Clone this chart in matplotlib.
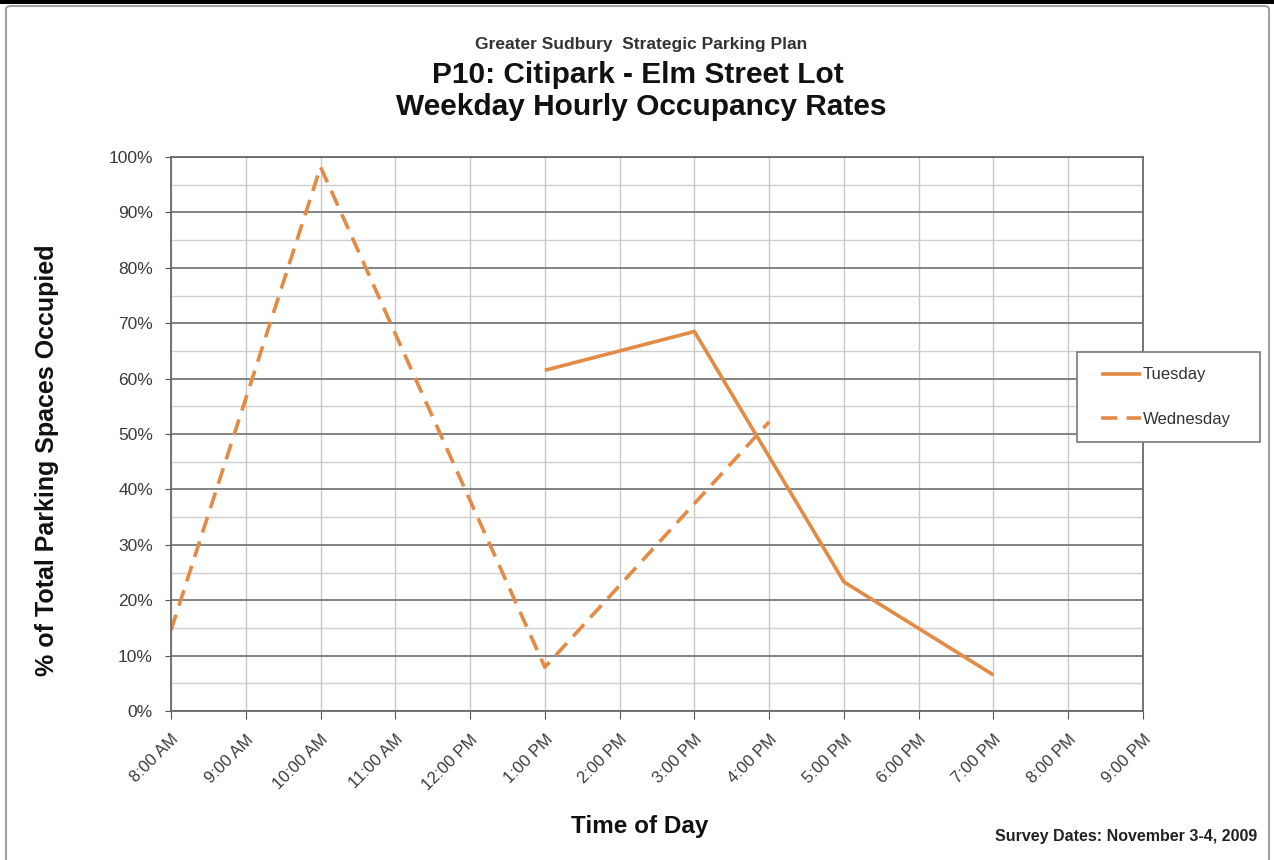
import matplotlib
matplotlib.use("Agg")
import matplotlib.pyplot as plt
from matplotlib.patches import Rectangle, FancyBboxPatch
from matplotlib.ticker import MultipleLocator, FuncFormatter

plt.rcParams['font.family'] = ['Liberation Sans', 'DejaVu Sans']

# Hours of the day (24h clock) and their labels
hours = [8, 9, 10, 11, 12, 13, 14, 15, 16, 17, 18, 19, 20, 21]
hour_labels = ["8:00 AM", "9:00 AM", "10:00 AM", "11:00 AM", "12:00 PM",
               "1:00 PM", "2:00 PM", "3:00 PM", "4:00 PM", "5:00 PM",
               "6:00 PM", "7:00 PM", "8:00 PM", "9:00 PM"]

# Occupancy (% of spaces occupied)
tuesday_hours = [13, 15, 17, 19]
tuesday_occ = [61.5, 68.5, 23.3, 6.5]

wednesday_hours = [8, 10, 13, 16]
wednesday_occ = [14.6, 98.2, 7.9, 52.2]

W, H = 1274, 860
fig = plt.figure(figsize=(W / 100, H / 100), dpi=100)
fig.patch.set_facecolor("white")

# Outer frame
fig.add_artist(FancyBboxPatch((6 / W, -4 / H), 1263 / W, 858 / H,
                              boxstyle="round,pad=0,rounding_size=0.004",
                              transform=fig.transFigure, fill=False,
                              edgecolor="#a0a0a0", linewidth=1.5))
fig.add_artist(Rectangle((0, 1 - 4 / H), 1, 4 / H, transform=fig.transFigure,
                         facecolor="black", edgecolor="none"))

ax = fig.add_axes([171 / W, 1 - 711 / H, (1143 - 171) / W, (711 - 157) / H])

orange = "#E38A44"
ax.plot(tuesday_hours, tuesday_occ, color=orange, linewidth=2.6,
        label="Tuesday", solid_capstyle="butt")
ax.plot(wednesday_hours, wednesday_occ, color=orange, linewidth=2.6,
        linestyle=(0, (4.5, 2.6)), label="Wednesday")

ax.set_xlim(8, 21)
ax.set_ylim(0, 100)
ax.set_xticks(hours)
ax.set_xticklabels(hour_labels, rotation=45, ha="right", rotation_mode="anchor",
                   fontsize=12, color="#3a3a3a")
ax.yaxis.set_major_locator(MultipleLocator(10))
ax.yaxis.set_minor_locator(MultipleLocator(5))
ax.yaxis.set_major_formatter(FuncFormatter(lambda v, p: f"{int(v)}%"))
ax.tick_params(axis="y", labelsize=12.5, labelcolor="#3a3a3a", length=4,
               color="#555555", which="major", pad=9)
ax.tick_params(axis="y", which="minor", length=0)
ax.tick_params(axis="x", length=6, color="#555555", pad=9)

ax.grid(which="major", axis="y", color="#7a7a7a", linewidth=1.3)
ax.grid(which="minor", axis="y", color="#cfcfcf", linewidth=1.0)
ax.grid(which="major", axis="x", color="#c8c8c8", linewidth=1.0)
ax.set_axisbelow(True)
for side in ["left", "bottom", "right", "top"]:
    ax.spines[side].set_color("#6a6a6a")
    ax.spines[side].set_linewidth(1.3)

# Axis titles
fig.text(47 / W, 1 - 460 / H, "% of Total Parking Spaces Occupied",
         rotation=90, ha="center", va="center", fontsize=18,
         fontweight="bold", color="#111111")
fig.text(640 / W, 1 - 826 / H, "Time of Day", ha="center", va="center",
         fontsize=17.5, fontweight="bold", color="#111111")

# Titles
fig.text(641 / W, 1 - 44 / H, "Greater Sudbury  Strategic Parking Plan",
         ha="center", va="center", fontsize=12.5, fontweight="bold",
         color="#333333")
fig.text(638 / W, 1 - 75 / H, "P10: Citipark - Elm Street Lot",
         ha="center", va="center", fontsize=21.5, fontweight="bold",
         color="#111111")
fig.text(641 / W, 1 - 107 / H, "Weekday Hourly Occupancy Rates",
         ha="center", va="center", fontsize=21.5, fontweight="bold",
         color="#111111")

fig.text(1257 / W, 1 - 836 / H, "Survey Dates: November 3-4, 2009",
         ha="right", va="center", fontsize=11.5, fontweight="bold",
         color="#222222")

# Legend box and entries
fig.add_artist(Rectangle((1077 / W, 1 - 442 / H), 183 / W, 90 / H,
                         transform=fig.transFigure, facecolor="white",
                         edgecolor="#7a7a7a", linewidth=1.2, zorder=4))
leg = fig.legend(loc="center left", bbox_to_anchor=(1101 / W, 1 - 397 / H),
                 bbox_transform=fig.transFigure, frameon=False,
                 fontsize=12, handlelength=2.4, handletextpad=0.12,
                 labelspacing=1.75, borderpad=0, borderaxespad=0)
leg.set_zorder(5)
for t in leg.get_texts():
    t.set_color("#333333")

fig.savefig("out.png", dpi=100, facecolor="white")
